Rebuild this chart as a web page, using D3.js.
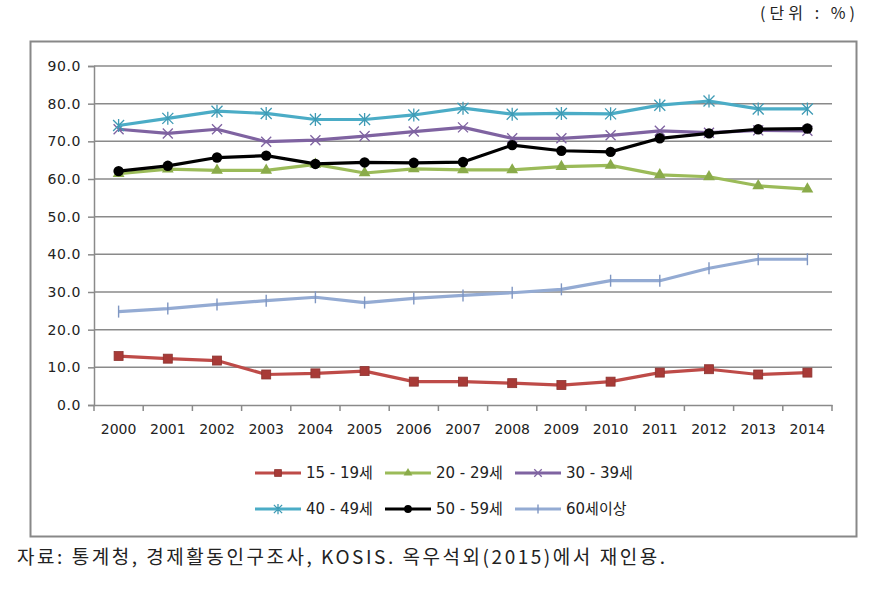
<!DOCTYPE html>
<html><head><meta charset="utf-8">
<script src="https://cdn.jsdelivr.net/npm/d3@7"></script>
<style>body{margin:0;background:#fff;}svg{display:block;}</style>
</head><body>
<script>
const years = ["2000","2001","2002","2003","2004","2005","2006","2007","2008","2009","2010","2011","2012","2013","2014"];
const yTicks = [0,10,20,30,40,50,60,70,80,90];
const s15_19 = [13.0,12.3,11.8,8.1,8.4,9.0,6.2,6.2,5.8,5.3,6.2,8.6,9.5,8.1,8.6];
const s20_29 = [61.4,62.6,62.3,62.3,63.9,61.6,62.7,62.4,62.4,63.3,63.6,61.1,60.6,58.2,57.3];
const s30_39 = [73.2,72.1,73.2,69.9,70.3,71.4,72.6,73.7,70.8,70.8,71.6,72.8,72.3,72.9,72.8];
const s40_49 = [74.2,76.1,78.0,77.4,75.8,75.8,77.0,78.8,77.2,77.4,77.3,79.6,80.7,78.6,78.6];
const s50_59 = [62.1,63.5,65.7,66.2,64.0,64.4,64.3,64.5,69.0,67.5,67.2,70.8,72.1,73.2,73.4];
const s60p   = [24.8,25.6,26.7,27.7,28.6,27.2,28.3,29.1,29.8,30.7,33.0,33.0,36.3,38.7,38.7];
const seriesNames = ["15 - 19세","20 - 29세","30 - 39세","40 - 49세","50 - 59세","60세이상"];
const unitLabel = "(단위 : %)";
const sourceLabel = "자료: 통계청, 경제활동인구조사, KOSIS. 옥우석외(2015)에서 재인용.";

const series = [
  {name:seriesNames[0], values:s15_19, color:"#be4b48", mcolor:"#a83a37", marker:"square"},
  {name:seriesNames[1], values:s20_29, color:"#9bbb59", mcolor:"#8aab4a", marker:"triangle"},
  {name:seriesNames[2], values:s30_39, color:"#7f63a1", mcolor:"#7f63a1", marker:"x"},
  {name:seriesNames[3], values:s40_49, color:"#4bacc6", mcolor:"#3f9bb5", marker:"star"},
  {name:seriesNames[4], values:s50_59, color:"#000000", mcolor:"#000000", marker:"circle"},
  {name:seriesNames[5], values:s60p,   color:"#94abd3", mcolor:"#7f96c2", marker:"plus"}
];

const W=890,H=589;
const svg=d3.select("body").append("svg").attr("width",W).attr("height",H);
const font="'DejaVu Sans','Noto Sans CJK KR',sans-serif";

// outer chart box
svg.append("rect").attr("x",30.5).attr("y",41.5).attr("width",826).attr("height",495)
  .attr("fill","#fff").attr("stroke","#888").attr("stroke-width",2);

const L=94,R=832,T=66,B=405;
const x=d3.scaleBand().domain(years).range([L,R]);
const y=d3.scaleLinear().domain([0,90]).range([B,T]);

// gridlines
svg.append("g").selectAll("line").data(yTicks.filter(d=>d>0)).join("line")
  .attr("x1",L).attr("x2",R).attr("y1",d=>y(d)).attr("y2",d=>y(d))
  .attr("stroke","#8a8a8a").attr("stroke-width",1.5);

// y axis
const yAxis=svg.append("g").attr("transform",`translate(${L},0)`)
  .call(d3.axisLeft(y).tickValues(yTicks).tickFormat(d3.format(".1f")).tickSize(6).tickPadding(7));
yAxis.select(".domain").attr("stroke","#8a8a8a").attr("stroke-width",1.5);
yAxis.selectAll(".tick line").attr("stroke","#8a8a8a").attr("stroke-width",1.5);
yAxis.selectAll("text").attr("font-family",font).attr("font-size",14).attr("letter-spacing",0.6).attr("fill","#222");

// x axis
const xAxis=svg.append("g").attr("transform",`translate(0,${B})`)
  .call(d3.axisBottom(x).tickSize(0).tickPadding(19));
xAxis.select(".domain").attr("stroke","#8a8a8a").attr("stroke-width",1.5);
xAxis.selectAll("text").attr("font-family",font).attr("font-size",14).attr("fill","#222");
// category boundary ticks
const bounds=years.map(d=>x(d)).concat([R]);
svg.append("g").selectAll("line").data(bounds).join("line")
  .attr("x1",d=>d).attr("x2",d=>d).attr("y1",B).attr("y2",B+6)
  .attr("stroke","#8a8a8a").attr("stroke-width",1.5);

const cx=d=>x(d)+x.bandwidth()/2;
const line=d3.line().x((d,i)=>cx(years[i])).y(d=>y(d));

function drawMarker(g,type,color,px,py,sz){
  const s=sz||1;
  if(type==="square"){
    g.append("rect").attr("x",px-4.5*s).attr("y",py-4.5*s).attr("width",9*s).attr("height",9*s)
      .attr("fill",color).attr("stroke","#8c3431").attr("stroke-width",0.8);
  } else if(type==="triangle"){
    g.append("path").attr("d",d3.symbol(d3.symbolTriangle,60*s*s)()).attr("transform",`translate(${px},${py})`)
      .attr("fill",color);
  } else if(type==="circle"){
    g.append("circle").attr("cx",px).attr("cy",py).attr("r",5.2*s).attr("fill",color);
  } else if(type==="x"){
    const r=5*s;
    g.append("path").attr("d",`M${px-r},${py-r}L${px+r},${py+r}M${px-r},${py+r}L${px+r},${py-r}`)
      .attr("stroke",color).attr("stroke-width",1.3).attr("fill","none");
  } else if(type==="star"){
    const r=5.5*s;
    g.append("path").attr("d",`M${px-r},${py-r}L${px+r},${py+r}M${px-r},${py+r}L${px+r},${py-r}M${px},${py-r-1}L${px},${py+r+1}`)
      .attr("stroke",color).attr("stroke-width",1.3).attr("fill","none");
  } else if(type==="plus"){
    const r=6*s;
    g.append("path").attr("d",`M${px},${py-r}L${px},${py+r}`)
      .attr("stroke",color).attr("stroke-width",1.4).attr("fill","none");
  }
}

const drawOrder=[5,0,1,2,3,4];
drawOrder.forEach(k=>{
  const sr=series[k];
  const g=svg.append("g");
  g.append("path").datum(sr.values).attr("d",line).attr("fill","none")
    .attr("stroke",sr.color).attr("stroke-width",3.2).attr("stroke-linejoin","round");
  sr.values.forEach((v,i)=>drawMarker(g,sr.marker,sr.mcolor,cx(years[i]),y(v)));
});

// legend
const legX=[255,385,515], legY=[473,509];
series.forEach((sr,k)=>{
  const lx=legX[k%3], ly=legY[Math.floor(k/3)];
  const g=svg.append("g");
  g.append("line").attr("x1",lx).attr("x2",lx+46).attr("y1",ly).attr("y2",ly)
    .attr("stroke",sr.color).attr("stroke-width",3);
  drawMarker(g,sr.marker,sr.mcolor,lx+23,ly,0.75);
  g.append("text").attr("x",lx+51).attr("y",ly).attr("dy","0.35em")
    .attr("font-family",font).attr("font-size",15).attr("fill","#222").text(sr.name);
});

// unit label
svg.append("text").attr("x",760).attr("y",13).attr("dy","0.35em")
  .attr("textLength",95).attr("lengthAdjust","spacing")
  .attr("font-family","'Noto Sans CJK KR',sans-serif").attr("font-size",16).attr("fill","#222").text(unitLabel);
// source
svg.append("text").attr("x",17).attr("y",557).attr("dy","0.35em")
  .attr("textLength",648).attr("lengthAdjust","spacing")
  .attr("font-family","'Noto Sans CJK KR',serif").attr("font-size",19).attr("fill","#222").text(sourceLabel);
</script>
</body></html>
